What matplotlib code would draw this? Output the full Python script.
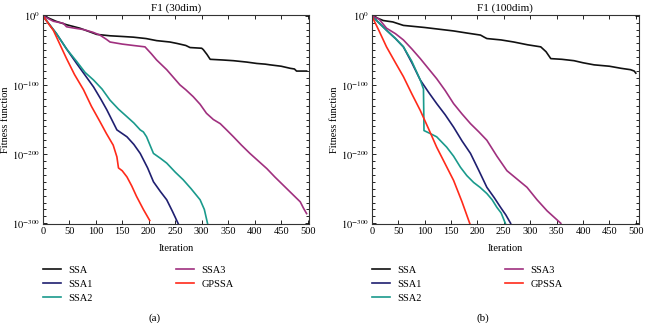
import numpy as np
import matplotlib
matplotlib.use("Agg")
import matplotlib.pyplot as plt
from matplotlib.ticker import FixedLocator, FixedFormatter, NullFormatter

plt.rcParams['font.family'] = ['Liberation Serif', 'DejaVu Serif']
plt.rcParams['mathtext.fontset'] = 'stix'

# ---------------- data (iteration, log10 fitness) ----------------
names = ["SSA", "SSA1", "SSA2", "SSA3", "GPSSA"]
colors = ["#111111", "#1f1f70", "#1a9a8c", "#a0307f", "#ff2a1a"]

# Panel (a): F1 30dim
a_ssa_x = [0, 10, 25, 45, 70, 102, 127, 150, 171, 195, 215, 240, 253, 270, 278, 300, 303, 310, 316, 340, 360, 385, 404, 420, 429, 450, 467, 475, 479, 490, 498]
a_ssa_y = [0, -3, -8, -13, -18, -27, -29, -30, -31, -33, -36, -38, -40, -43, -46, -47, -49, -56, -63, -64, -65, -67, -69, -70, -71, -73, -76, -77, -80, -80, -80]
a_ssa1_x = [0, 26, 45, 64, 80, 96, 110, 121, 140, 159, 172, 184, 198, 209, 222, 234, 245, 256]
a_ssa1_y = [0, -26, -48, -69, -86, -103, -121, -136, -165, -175, -186, -199, -220, -240, -254, -266, -283, -301]
a_ssa2_x = [0, 26, 45, 64, 80, 96, 112, 127, 143, 159, 172, 184, 190, 196, 203, 209, 222, 234, 250, 265, 280, 297, 305, 311]
a_ssa2_y = [0, -26, -48, -66, -82, -93, -106, -122, -135, -146, -155, -165, -168, -175, -188, -199, -206, -213, -226, -237, -250, -266, -280, -300]
a_ssa3_x = [0, 20, 39, 45, 60, 77, 95, 108, 120, 127, 150, 171, 193, 205, 215, 234, 259, 270, 284, 297, 309, 322, 335, 347, 360, 375, 391, 407, 423, 438, 454, 470, 486, 492, 498]
a_ssa3_y = [0, -8, -11, -16, -18, -20, -24, -28, -34, -38, -41, -43, -45, -55, -64, -78, -100, -107, -117, -128, -141, -150, -156, -165, -175, -187, -199, -210, -221, -233, -245, -257, -269, -278, -286]
a_gps_x = [0, 20, 45, 60, 77, 92, 108, 120, 133, 140, 143, 150, 159, 168, 177, 190, 202]
a_gps_y = [0, -21, -62, -85, -107, -131, -153, -170, -187, -204, -220, -224, -233, -246, -261, -280, -296]

# Panel (b): F1 100dim
b_ssa_x = [0, 22, 40, 60, 100, 155, 180, 206, 213, 218, 245, 269, 295, 320, 330, 339, 360, 383, 400, 421, 450, 472, 490, 497, 500]
b_ssa_y = [0, -7, -9, -14, -17, -22, -25, -28, -31, -33, -35, -38, -42, -45, -52, -62, -63, -65, -68, -71, -73, -76, -78, -80, -83]
b_ssa1_x = [0, 28, 45, 60, 76, 92, 108, 123, 139, 155, 171, 187, 203, 218, 232, 244, 254, 263]
b_ssa1_y = [0, -21, -33, -45, -68, -93, -111, -127, -143, -161, -181, -199, -224, -248, -263, -277, -288, -300]
b_ssa2_x = [0, 28, 45, 60, 76, 92, 98, 99, 110, 123, 142, 155, 168, 180, 193, 205, 218, 228, 237, 245, 253]
b_ssa2_y = [0, -21, -33, -45, -66, -93, -106, -166, -170, -175, -190, -203, -219, -231, -241, -248, -257, -266, -277, -285, -300]
b_ssa3_x = [0, 14, 28, 45, 60, 76, 92, 108, 123, 139, 155, 171, 187, 203, 218, 237, 256, 275, 294, 313, 332, 345, 358]
b_ssa3_y = [0, -5, -18, -26, -35, -48, -62, -77, -91, -108, -127, -142, -156, -168, -180, -203, -224, -236, -248, -266, -282, -291, -300]
b_gps_x = [0, 14, 28, 45, 60, 76, 92, 108, 123, 139, 155, 171, 186]
b_gps_y = [0, -22, -45, -68, -88, -113, -137, -164, -190, -214, -238, -269, -301]

panels = [
    dict(title="F1 (30dim)", tag="(a)",
         xs=[a_ssa_x, a_ssa1_x, a_ssa2_x, a_ssa3_x, a_gps_x],
         ys=[a_ssa_y, a_ssa1_y, a_ssa2_y, a_ssa3_y, a_gps_y]),
    dict(title="F1 (100dim)", tag="(b)",
         xs=[b_ssa_x, b_ssa1_x, b_ssa2_x, b_ssa3_x, b_gps_x],
         ys=[b_ssa_y, b_ssa1_y, b_ssa2_y, b_ssa3_y, b_gps_y]),
]

xticks = [0, 50, 100, 150, 200, 250, 300, 350, 400, 450, 500]
yticks_exp = [0, -100, -200, -300]

W, H = 645, 323
fig = plt.figure(figsize=(W / 100, H / 100), dpi=100)

boxes = [(42.7, 309.0), (371.7, 639.0)]
top_px, bot_px = 15.3, 224.0
xmax = [502.5, 506.0]
ylab_x = [10.5, 339.0]
leg1_x = [42.7, 371.7]
leg2_x = [176.0, 505.0]
tag_x = [155, 483]
fs = 7.5

for i, p in enumerate(panels):
    l, r = boxes[i]
    ax = fig.add_axes([l / W, 1 - bot_px / H, (r - l) / W, (bot_px - top_px) / H])
    handles = []
    for name, c, x, y in zip(names, colors, p["xs"], p["ys"]):
        h, = ax.plot(x, 10.0 ** np.array(y, dtype=float), color=c, lw=1.2, label=name)
        handles.append(h)
    ax.set_yscale('log')
    ax.set_ylim(10.0 ** -301, 10.0 ** 0.6)
    ax.set_xlim(0, xmax[i])
    ax.set_xticks(xticks)
    ax.set_xticklabels([str(t) for t in xticks], fontsize=fs)
    ax.yaxis.set_major_locator(FixedLocator([10.0 ** e for e in yticks_exp]))
    ax.yaxis.set_major_formatter(FixedFormatter([r'$10^{%d}$' % e for e in yticks_exp]))
    ax.yaxis.set_minor_locator(FixedLocator([10.0 ** e for e in range(-300, 1, 10)]))
    ax.yaxis.set_minor_formatter(NullFormatter())
    ax.tick_params(axis='y', which='minor', length=2, width=0.6, direction='in', right=True, left=True)
    ax.tick_params(axis='both', which='major', direction='in', length=3, width=0.6,
                   top=True, right=True, labelsize=fs, pad=2)
    for s in ax.spines.values():
        s.set_linewidth(0.8)
        s.set_color('#333333')
    ax.set_title(p["title"], fontsize=fs + 0.5, pad=3)
    ax.set_xlabel("Iteration", fontsize=fs)
    ax.xaxis.set_label_coords(0.5, -0.095)
    ax.set_ylabel("Fitness function", fontsize=fs)
    ax.yaxis.set_label_coords((ylab_x[i] - l) / (r - l), 0.5)

    common = dict(frameon=False, fontsize=fs, borderpad=0, borderaxespad=0,
                  handlelength=1.75, handletextpad=0.7, labelspacing=0.45, loc='upper left')
    fig.legend(handles[:3], names[:3], bbox_to_anchor=(leg1_x[i] / W, 1 - 265.5 / H), **common)
    fig.legend(handles[3:], names[3:], bbox_to_anchor=(leg2_x[i] / W, 1 - 265.5 / H), **common)
    fig.text(tag_x[i] / W, 1 - 318 / H, p["tag"], ha='center', va='center', fontsize=fs + 0.5)

fig.savefig("out.png", dpi=100)
